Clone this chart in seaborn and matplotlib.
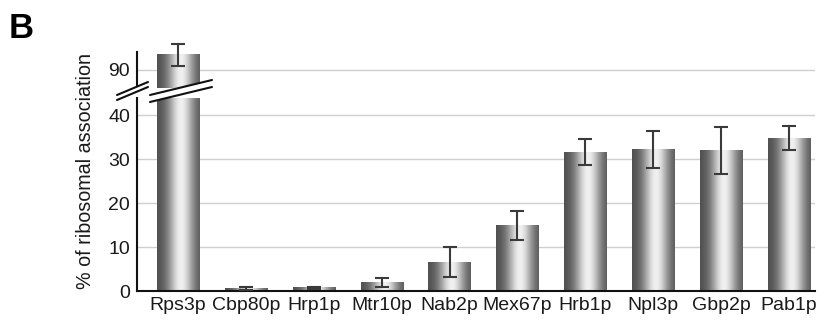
import numpy as np
import matplotlib
matplotlib.use('Agg')
import matplotlib.pyplot as plt
import seaborn as sns

# Data
proteins = ['Rps3p', 'Cbp80p', 'Hrp1p', 'Mtr10p', 'Nab2p',
            'Mex67p', 'Hrb1p', 'Npl3p', 'Gbp2p', 'Pab1p']
assoc = [93.5, 0.5, 0.7, 2.0, 6.5, 14.8, 31.6, 32.2, 32.0, 34.8]
errors = [2.5, 0.3, 0.3, 1.0, 3.4, 3.3, 3.0, 4.2, 5.4, 2.8]

sns.set_style('white')
plt.rcParams['font.family'] = ['Liberation Sans', 'DejaVu Sans']

W, H = 829, 327
fig = plt.figure(figsize=(W / 100, H / 100), dpi=100)


def fx(px):
    return px / W


def fy(py):
    return 1 - py / H


ax_left, ax_right = 137, 815
ax_bot = fig.add_axes([fx(ax_left), fy(291), fx(ax_right - ax_left), (291 - 98) / H])
ax_top = fig.add_axes([fx(ax_left), fy(88), fx(ax_right - ax_left), (88 - 40) / H])

bot_lim = (0, 43.9)
top_lim = (85.9, 96.8)

# cylinder-like shading across each bar
xs = np.linspace(0, 1, 200)
shade = 0.30 + 0.64 * np.exp(-((xs - 0.56) / 0.30) ** 2)
grad = shade[np.newaxis, :]

for ax, lim in ((ax_bot, bot_lim), (ax_top, top_lim)):
    sns.barplot(x=proteins, y=assoc, ax=ax, width=0.62, color='white',
                edgecolor='none', errorbar=None)
    ax.set_ylim(*lim)
    for p in ax.patches:
        x0, w = p.get_x(), p.get_width()
        y0, y1 = max(0, lim[0]), min(p.get_height(), lim[1])
        if y1 > y0:
            ax.imshow(grad, extent=[x0, x0 + w, y0, y1], aspect='auto',
                      cmap='gray', vmin=0, vmax=1, zorder=2)
        p.set_facecolor('none')
    centers = [p.get_x() + p.get_width() / 2 for p in ax.patches]
    ax.errorbar(centers, assoc, yerr=errors, fmt='none', ecolor='#3a3a3a',
                elinewidth=1.5, capsize=5, capthick=1.5, zorder=3)
    ax.set_xlim(-0.60, 9.38)
    ax.set_ylim(*lim)
    ax.yaxis.grid(True, color='#cfcfcf', lw=1)
    ax.set_axisbelow(True)
    for s in ('top', 'right'):
        ax.spines[s].set_visible(False)
    ax.spines['left'].set_color('#111111')
    ax.spines['left'].set_linewidth(1.5)
    ax.tick_params(axis='both', length=0, labelsize=14, colors='#1a1a1a')
    ax.tick_params(axis='y', pad=5)
    ax.set_xlabel('')
    ax.set_ylabel('')

ax_bot.set_yticks([0, 10, 20, 30, 40])
ax_bot.spines['bottom'].set_color('#111111')
ax_bot.spines['bottom'].set_linewidth(1.5)
ax_bot.tick_params(axis='x', pad=4)

ax_top.set_yticks([90])
ax_top.spines['left'].set_bounds(85.9, 94.1)
ax_top.spines['bottom'].set_visible(False)
ax_top.set_xticks([])

# break marks on the axis
axis_a = [(117, 95), (148, 82)]
axis_b = [(117, 100), (148, 87)]
fig.patches.append(plt.Polygon(
    [(fx(x), fy(y)) for x, y in axis_a + axis_b[::-1]],
    closed=True, transform=fig.transFigure, facecolor='white',
    edgecolor='none', zorder=5))
for seg in (axis_a, axis_b):
    fig.add_artist(plt.Line2D([fx(seg[0][0]), fx(seg[1][0])],
                              [fy(seg[0][1]), fy(seg[1][1])],
                              transform=fig.transFigure, color='#111111',
                              lw=1.5, zorder=6))

# break marks across the first bar
bar_a = [(150, 95), (212, 80)]
bar_b = [(150, 102), (212, 87)]
fig.patches.append(plt.Polygon(
    [(fx(x), fy(y)) for x, y in bar_a + bar_b[::-1]],
    closed=True, transform=fig.transFigure, facecolor='white',
    edgecolor='none', zorder=5))
for seg in (bar_a, bar_b):
    fig.add_artist(plt.Line2D([fx(seg[0][0]), fx(seg[1][0])],
                              [fy(seg[0][1]), fy(seg[1][1])],
                              transform=fig.transFigure, color='#111111',
                              lw=1.5, zorder=6))

fig.text(fx(86), fy(171), '% of ribosomal association', rotation=90,
         ha='center', va='center', fontsize=14.2, color='#1a1a1a')
fig.text(fx(9), fy(12), 'B', ha='left', va='top', fontsize=25,
         fontweight='bold', color='black')

fig.savefig('out.png', dpi=100)
